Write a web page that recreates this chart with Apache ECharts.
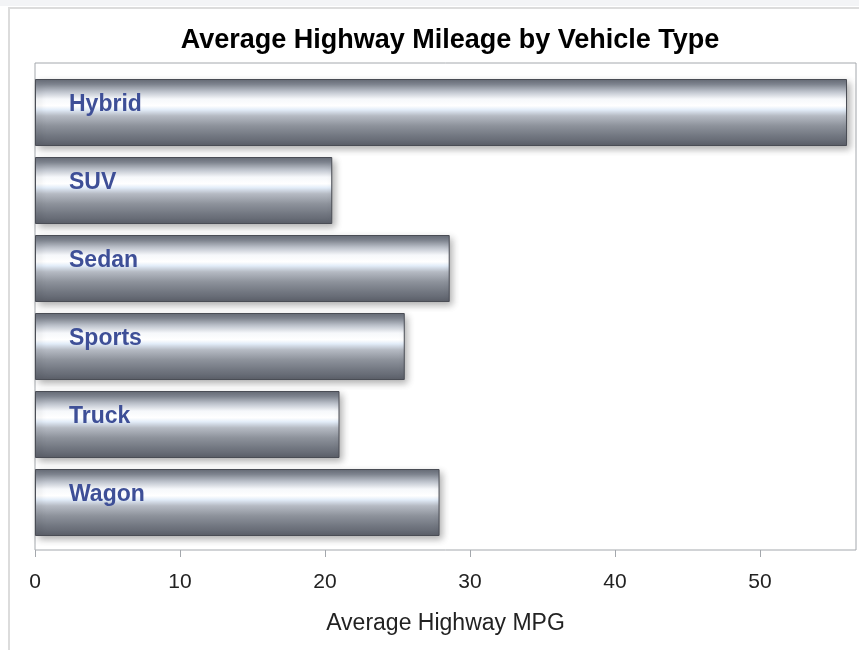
<!DOCTYPE html>
<html>
<head>
<meta charset="utf-8">
<script src="https://cdn.jsdelivr.net/npm/echarts@6/dist/echarts.min.js"></script>
<style>
html,body{margin:0;padding:0;background:#fff;}
#chart{width:859px;height:650px;}
</style>
</head>
<body>
<div id="chart"></div>
<script>
const titleText = 'Average Highway Mileage by Vehicle Type';
const axisTitle = 'Average Highway MPG';
const categories = ['Hybrid', 'SUV', 'Sedan', 'Sports', 'Truck', 'Wagon'];
const mpgValues = [56.0, 20.5, 28.6, 25.5, 21.0, 27.9];
const tickValues = [0, 10, 20, 30, 40, 50];

const chart = echarts.init(document.getElementById('chart'), null, {renderer: 'canvas'});

const barGradient = new echarts.graphic.LinearGradient(0, 0, 0, 1, [
  {offset: 0.00, color: '#666b76'},
  {offset: 0.08, color: '#838994'},
  {offset: 0.20, color: '#c3c8d1'},
  {offset: 0.30, color: '#f6f8fb'},
  {offset: 0.40, color: '#ffffff'},
  {offset: 0.46, color: '#e2ecf8'},
  {offset: 0.55, color: '#b5bac3'},
  {offset: 0.70, color: '#8d929b'},
  {offset: 0.85, color: '#727781'},
  {offset: 1.00, color: '#5b5f69'}
]);

const option = {
  backgroundColor: '#ffffff',
  animation: false,
  graphic: [
    {type: 'rect', shape: {x: 0, y: 0, width: 859, height: 6}, style: {fill: '#f3f4f6'}, silent: true, z: -10},
    {type: 'rect', shape: {x: 9, y: 8, width: 900, height: 700}, style: {fill: 'none', stroke: '#dcdcdc', lineWidth: 2}, silent: true, z: -10}
  ],
  title: {
    text: titleText,
    left: 445,
    textAlign: 'center',
    top: 22,
    textStyle: {fontFamily: 'Liberation Sans, Arial, sans-serif', fontSize: 27, fontWeight: 'bold', color: '#000'}
  },
  grid: [
    {left: 35, top: 63, width: 821, height: 487, show: true, borderColor: '#a4a8ad', borderWidth: 1, backgroundColor: 'transparent'},
    {left: 35, top: 73.5, width: 821, height: 468}
  ],
  xAxis: [
    {gridIndex: 0, type: 'value', show: false, min: 0, max: 56.62},
    {
      gridIndex: 1,
      type: 'value',
      min: 0,
      max: 56.62,
      interval: 10,
      offset: 8.5,
      position: 'bottom',
      splitLine: {show: false},
      axisLine: {show: false},
      axisTick: {show: true, length: 7, customValues: tickValues, lineStyle: {color: '#a4a8ad', width: 1}},
      axisLabel: {
        customValues: tickValues,
        margin: 22,
        fontFamily: 'Liberation Sans, Arial, sans-serif',
        fontSize: 21,
        color: '#222'
      },
      name: axisTitle,
      nameLocation: 'middle',
      nameGap: 62,
      nameTextStyle: {fontFamily: 'Liberation Sans, Arial, sans-serif', fontSize: 23, color: '#222'}
    }
  ],
  yAxis: [
    {gridIndex: 0, type: 'value', show: false},
    {
      gridIndex: 1,
      type: 'category',
      data: categories,
      inverse: true,
      axisLine: {show: false},
      axisTick: {show: false},
      axisLabel: {show: false},
      splitLine: {show: false}
    }
  ],
  series: [{
    type: 'bar',
    xAxisIndex: 1,
    yAxisIndex: 1,
    data: mpgValues,
    barWidth: 67,
    itemStyle: {
      color: barGradient,
      borderColor: '#4a4d55',
      borderWidth: 1,
      shadowColor: 'rgba(0,0,0,0.32)',
      shadowBlur: 7,
      shadowOffsetX: 3,
      shadowOffsetY: 3
    },
    label: {
      show: true,
      position: 'insideLeft',
      distance: 34,
      offset: [0, -8],
      formatter: p => p.name,
      fontFamily: 'Liberation Sans, Arial, sans-serif',
      fontSize: 23,
      fontWeight: 'bold',
      color: '#3e4f97'
    }
  }]
};
chart.setOption(option);
</script>
</body>
</html>
